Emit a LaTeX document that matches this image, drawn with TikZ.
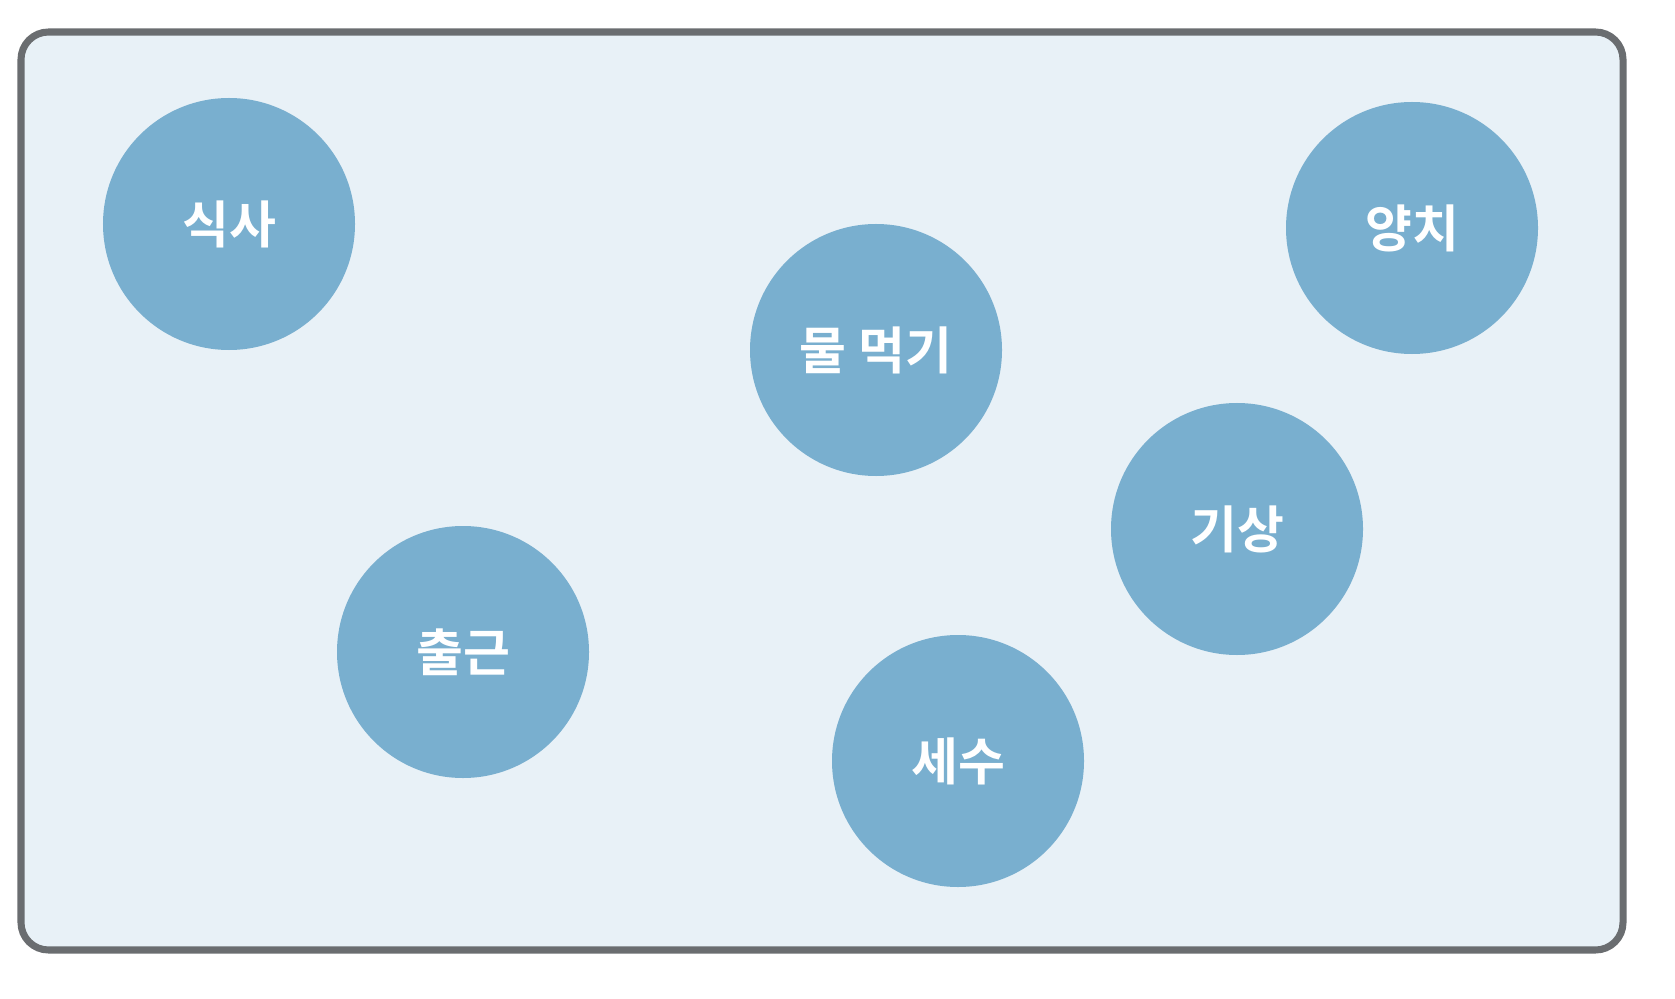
\documentclass[tikz,border=0pt]{standalone}
\usepackage{fontspec}
\newfontfamily\kofont{Noto Sans CJK KR Bold}
\usepackage{tikz}
\usetikzlibrary{positioning}

\definecolor{framegray}{HTML}{6A6D70}
\definecolor{panelblue}{HTML}{E8F1F7}
\definecolor{dotblue}{HTML}{79AFCF}

\begin{document}
\begin{tikzpicture}[
			x=0.2mm,
			y=-0.2mm,
			task/.style={
					circle,
					fill=dotblue,
					text=white,
					minimum size=5.04cm,
					inner sep=0pt,
					font=\kofont\fontsize{29}{34}\selectfont
				}
		]

		\useasboundingbox (0,0) rectangle (1675,999);

		% panel
		\draw[framegray, fill=panelblue, line width=4pt, rounded corners=0.55cm]
		(21,32) rectangle (1623,950);

		\node (meal) [task] at (229,224) {식사};
		\node (drink) [task] at (876,350) {물 먹기};
		\node (brush) [task] at (1412,228) {양치};
		\node (wake) [task] at (1237,529) {기상};
		\node (commute) [task] at (463,652) {출근};
		\node (wash) [task] at (958,761) {세수};

	\end{tikzpicture}
\end{document}
